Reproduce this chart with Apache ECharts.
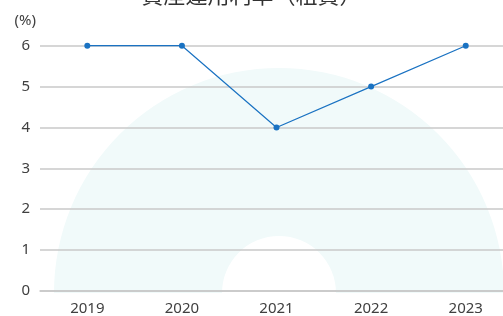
<html>
<head>
<meta charset="utf-8" />
<title>chart</title>
<style>
  html, body { margin: 0; padding: 0; background: #fff; }
  #chart { width: 503px; height: 316px; }
</style>
</head>
<body>
<div id="chart"></div>
<script src="https://cdn.jsdelivr.net/npm/echarts@6/dist/echarts.min.js"></script>
<script>
  var years = ['2019', '2020', '2021', '2022', '2023'];
  var rates = [6, 6, 4, 5, 6];
  var yTicks = [0, 1, 2, 3, 4, 5, 6];

  var font = '"Noto Sans", "Noto Sans CJK JP", sans-serif';
  var chart = echarts.init(document.getElementById('chart'));

  // 年をインデックスに置き換え（右端は図の外まで続くので value 軸で描く）
  var points = [];
  for (var i = 0; i < rates.length; i++) {
    points.push([i, rates[i]]);
  }
  var idx = years.map(function (y, i) { return i; });

  var option = {
    animation: false,
    title: {
      text: '資産運用利率（粗資）',
      left: 'center',
      top: -21,
      textStyle: { fontFamily: '"Noto Sans CJK JP", sans-serif', fontSize: 22, fontWeight: 'normal', color: '#333' }
    },
    // 背景の半円リング
    graphic: [{
      type: 'sector',
      z: -10,
      silent: true,
      shape: { cx: 279, cy: 293, r: 225, r0: 57, startAngle: Math.PI, endAngle: Math.PI * 2 },
      style: { fill: '#f1fafa' }
    }],
    grid: { left: 40, top: 45.7, bottom: 22.5, right: 0 },
    xAxis: {
      type: 'value',
      min: -0.5,
      max: 4.394,
      axisLine: { show: true, onZero: false, lineStyle: { color: '#c8c8c8', width: 1.5 } },
      axisTick: { show: false },
      splitLine: { show: false },
      axisLabel: {
        customValues: idx,
        margin: 10, fontSize: 15, color: '#404040', fontFamily: font,
        formatter: function (v) { return years[Math.round(v)]; }
      }
    },
    yAxis: {
      type: 'value',
      min: yTicks[0],
      max: yTicks[yTicks.length - 1],
      interval: 1,
      name: '(%)',
      nameLocation: 'end',
      nameGap: 17,
      nameTextStyle: { fontSize: 15, color: '#404040', fontFamily: font, align: 'right', padding: [0, 4, 0, 0] },
      axisLine: { show: false, onZero: false },
      axisTick: { show: false },
      axisLabel: { margin: 10, fontSize: 15, color: '#404040', fontFamily: font },
      splitLine: { lineStyle: { color: '#c8c8c8', width: 1.5 } }
    },
    series: [{
      type: 'line',
      data: points,
      symbol: 'circle',
      symbolSize: 6,
      itemStyle: { color: '#1a72c2' },
      lineStyle: { color: '#1a72c2', width: 1.2 }
    }]
  };
  chart.setOption(option);
</script>
</body>
</html>
